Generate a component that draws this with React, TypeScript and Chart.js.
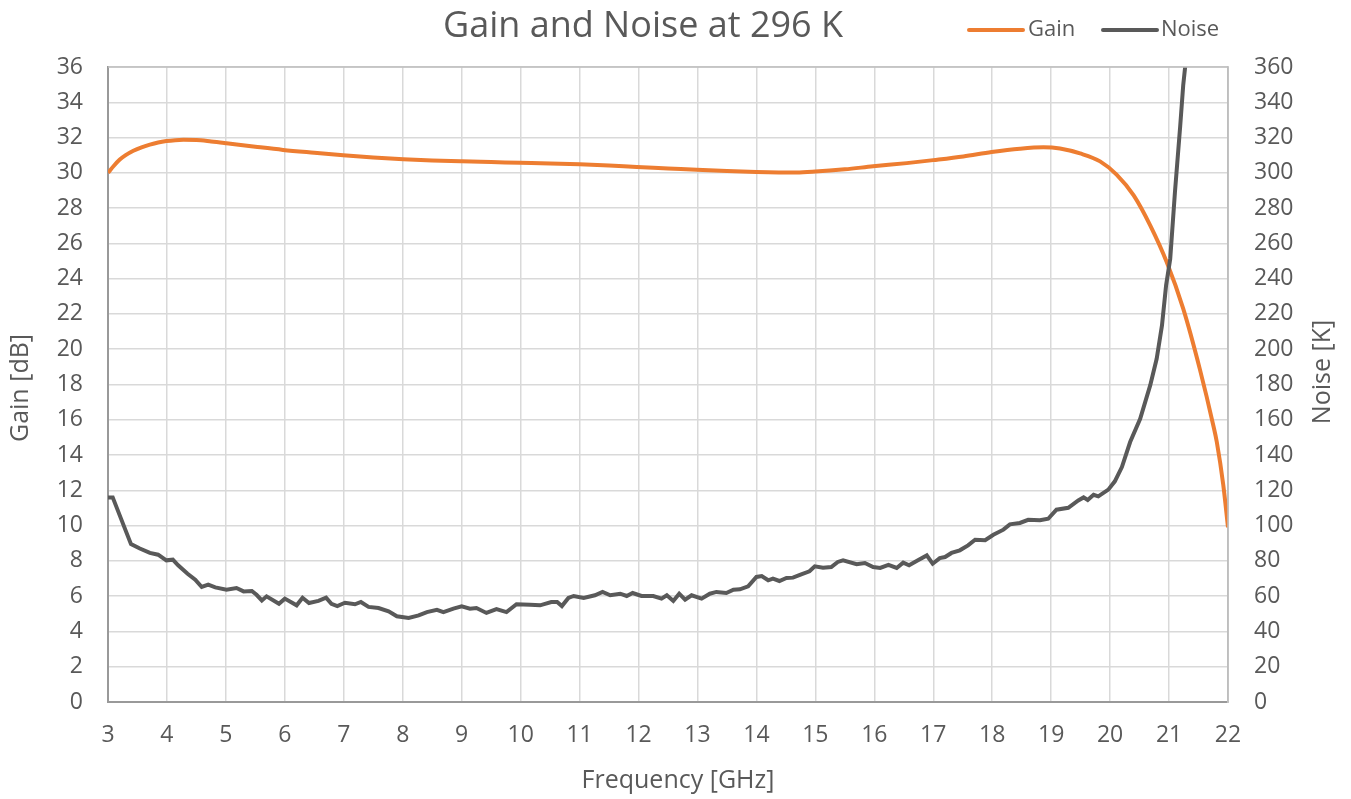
import React, { useEffect, useRef } from "react";
import { Chart, registerables } from "chart.js";

Chart.register(...registerables);

const chartTitle = "Gain and Noise at 296 K";
const xAxisTitle = "Frequency [GHz]";
const gainAxisTitle = "Gain [dB]";
const noiseAxisTitle = "Noise [K]";
const seriesNames = ["Gain", "Noise"];

const gainFreq = [
  3.0, 3.1, 3.2, 3.3, 3.43, 3.57, 3.71, 3.85, 3.99, 4.14, 4.28, 4.5, 4.75, 5.01, 5.5, 5.97, 6.5, 6.99,
  7.5, 8.01, 8.5, 9.0, 9.5, 9.99, 10.5, 11.0, 11.5, 11.97, 12.5, 12.99, 13.5, 14.0, 14.68, 15.0, 15.5,
  15.98, 16.55, 17.0, 17.51, 17.99, 18.47, 18.87, 19.15, 19.49, 19.83, 20.11, 20.4, 20.68, 20.96, 21.24,
  21.52, 21.75, 21.81, 21.92, 22.0,
];
const gainDb = [
  30.0, 30.4, 30.75, 31.0, 31.25, 31.45, 31.6, 31.72, 31.8, 31.85, 31.87, 31.86, 31.78, 31.68, 31.48, 31.3,
  31.14, 31.0, 30.87, 30.77, 30.7, 30.65, 30.61, 30.57, 30.53, 30.48, 30.41, 30.33, 30.25, 30.17, 30.1,
  30.05, 30.02, 30.07, 30.2, 30.37, 30.55, 30.72, 30.93, 31.18, 31.37, 31.45, 31.38, 31.1, 30.65, 29.9,
  28.72, 27.02, 24.94, 22.3, 18.9, 15.69, 14.74, 12.3, 9.9,
];

const noiseFreq = [
  3.0, 3.08, 3.29, 3.39, 3.54, 3.71, 3.85, 3.99, 4.1, 4.19, 4.35, 4.48, 4.59, 4.7, 4.82, 5.01, 5.18, 5.3,
  5.44, 5.52, 5.61, 5.69, 5.9, 6.0, 6.2, 6.3, 6.41, 6.57, 6.7, 6.79, 6.89, 7.02, 7.19, 7.29, 7.42, 7.59,
  7.76, 7.9, 8.1, 8.27, 8.41, 8.58, 8.69, 8.86, 9.0, 9.14, 9.25, 9.42, 9.59, 9.76, 9.93, 10.16, 10.33,
  10.52, 10.62, 10.7, 10.81, 10.9, 11.07, 11.26, 11.39, 11.52, 11.69, 11.8, 11.9, 12.05, 12.25, 12.39,
  12.48, 12.59, 12.69, 12.79, 12.9, 13.07, 13.21, 13.32, 13.49, 13.61, 13.72, 13.86, 14.0, 14.09, 14.2,
  14.28, 14.39, 14.51, 14.62, 14.76, 14.9, 14.99, 15.13, 15.27, 15.38, 15.47, 15.7, 15.84, 15.98, 16.1,
  16.24, 16.38, 16.49, 16.59, 16.74, 16.89, 16.99, 17.11, 17.2, 17.31, 17.45, 17.59, 17.71, 17.88, 18.02,
  18.19, 18.3, 18.47, 18.61, 18.81, 18.95, 19.09, 19.29, 19.46, 19.55, 19.62, 19.72, 19.8, 19.97, 20.08,
  20.2, 20.34, 20.51, 20.68, 20.79, 20.88, 20.95, 21.02, 21.1, 21.19, 21.24, 21.3, 21.35,
];
const noiseK = [
  116, 116, 98, 89.5, 87, 84.5, 83.5, 80.3, 80.7, 77.5, 72.7, 69.3, 65.2, 66.5, 65, 63.7, 64.6, 62.7,
  62.9, 60.8, 57.6, 59.9, 55.7, 58.6, 54.8, 59.1, 56.1, 57.3, 59.1, 55.7, 54.4, 56.3, 55.4, 56.7, 53.9,
  53.3, 51.4, 48.6, 47.6, 49.1, 51, 52.3, 51, 52.9, 54.2, 52.9, 53.3, 50.5, 52.7, 51, 55.4, 55.2, 54.8,
  56.7, 56.7, 54.4, 59, 60.1, 59, 60.5, 62.4, 60.5, 61.4, 60.1, 61.8, 60.1, 60.1, 58.6, 60.5, 57.3, 61.4,
  58, 60.5, 58.6, 61.4, 62.4, 61.8, 63.7, 63.9, 65.6, 70.9, 71.4, 69, 69.9, 68.6, 70.3, 70.5, 72.4, 74.1,
  76.9, 76.1, 76.5, 79.4, 80.3, 78.1, 78.8, 76.5, 76, 77.8, 76, 79, 77.5, 80.3, 83.1, 78.4, 81.6, 82.2,
  84.5, 86, 88.8, 92, 91.7, 94.8, 97.7, 100.7, 101.5, 103.3, 103, 103.9, 109, 110.1, 114.3, 116, 114.5,
  117.5, 116.6, 120.4, 125.1, 133.2, 147.4, 160.6, 179.5, 194.6, 213.5, 236.2, 251.3, 289.1, 326.9, 349.6,
  368.5, 390,
];

const xTicksMin = 3;
const xTicksMax = 22;
const gainMin = 0;
const gainMax = 36;
const gainStep = 2;
const noiseMin = 0;
const noiseMax = 360;
const noiseStep = 20;

const FONT = "'Open Sans', sans-serif";
const TEXT = "#595959";
const GRID = "#d9d9d9";
const ORANGE = "#ED7D31";
const DARK = "#595959";

export default function App() {
  const ref = useRef<HTMLCanvasElement>(null);

  useEffect(() => {
    document.body.style.margin = "0";
    const canvas = ref.current!;

    const overlay = {
      id: "overlay",
      afterDraw(chart: any) {
        const { ctx, chartArea: a } = chart;
        ctx.save();
        ctx.strokeStyle = "#bfbfbf";
        ctx.lineWidth = 1.5;
        ctx.beginPath();
        ctx.moveTo(a.left, a.top);
        ctx.lineTo(a.right, a.top);
        ctx.lineTo(a.right, a.bottom);
        ctx.stroke();

        ctx.fillStyle = TEXT;
        ctx.textBaseline = "middle";
        ctx.textAlign = "center";
        ctx.font = `36px ${FONT}`;
        ctx.fillText(chartTitle, 643, 27);

        // legend
        ctx.font = `22px ${FONT}`;
        ctx.textAlign = "left";
        const items = [
          { name: seriesNames[0], color: ORANGE, x0: 969, x1: 1023, tx: 1028 },
          { name: seriesNames[1], color: DARK, x0: 1103, x1: 1157, tx: 1161 },
        ];
        ctx.lineWidth = 4;
        ctx.lineCap = "round";
        for (const it of items) {
          ctx.strokeStyle = it.color;
          ctx.beginPath();
          ctx.moveTo(it.x0, 30);
          ctx.lineTo(it.x1, 30);
          ctx.stroke();
          ctx.fillText(it.name, it.tx, 30);
        }

        // axis titles
        ctx.font = `25px ${FONT}`;
        ctx.textAlign = "center";
        ctx.fillText(xAxisTitle, 678, 781);

        ctx.save();
        ctx.translate(21, 388);
        ctx.rotate(-Math.PI / 2);
        ctx.fillText(gainAxisTitle, 0, 0);
        ctx.restore();

        ctx.save();
        ctx.translate(1323, 372);
        ctx.rotate(-Math.PI / 2);
        ctx.fillText(noiseAxisTitle, 0, 0);
        ctx.restore();

        ctx.restore();
      },
    };

    const chart = new Chart(canvas, {
      type: "line",
      data: {
        datasets: [
          {
            label: seriesNames[1],
            data: noiseFreq.map((f, i) => ({ x: f, y: noiseK[i] })),
            borderColor: DARK,
            backgroundColor: DARK,
            borderWidth: 4,
            pointRadius: 0,
            tension: 0,
            yAxisID: "y1",
            clip: 0,
          },
          {
            label: seriesNames[0],
            data: gainFreq.map((f, i) => ({ x: f, y: gainDb[i] })),
            borderColor: ORANGE,
            backgroundColor: ORANGE,
            borderWidth: 4,
            pointRadius: 0,
            cubicInterpolationMode: "monotone",
            yAxisID: "y",
          },
        ],
      },
      options: {
        animation: false,
        responsive: false,
        devicePixelRatio: 1,
        layout: { padding: { top: 67, left: 0, right: 0, bottom: 0 } },
        plugins: {
          legend: { display: false },
          title: { display: false },
          tooltip: { enabled: false },
        },
        scales: {
          x: {
            type: "linear",
            min: xTicksMin,
            max: xTicksMax,
            ticks: { stepSize: 1, color: TEXT, font: { family: FONT, size: 23 }, padding: 20, maxRotation: 0 },
            grid: { color: GRID, lineWidth: 1.5, drawTicks: false },
            border: { color: "#999999", width: 2 },
            afterFit(scale: any) {
              scale.height = 97;
            },
          },
          y: {
            position: "left",
            min: gainMin,
            max: gainMax,
            ticks: { stepSize: gainStep, color: TEXT, font: { family: FONT, size: 23 }, padding: 25 },
            grid: { color: GRID, lineWidth: 1.5, drawTicks: false },
            border: { color: "#999999", width: 2 },
            afterFit(scale: any) {
              scale.width = 108;
            },
          },
          y1: {
            position: "right",
            min: noiseMin,
            max: noiseMax,
            ticks: { stepSize: noiseStep, color: TEXT, font: { family: FONT, size: 23 }, padding: 26 },
            grid: { display: false, drawTicks: false },
            border: { color: "#bfbfbf", width: 1.5 },
            afterFit(scale: any) {
              scale.width = 123;
            },
          },
        },
      },
      plugins: [overlay],
    });

    return () => chart.destroy();
  }, []);

  return (
    <div style={{ width: 1351, height: 799 }}>
      <canvas ref={ref} width={1351} height={799} style={{ display: "block", width: 1351, height: 799 }} />
    </div>
  );
}
